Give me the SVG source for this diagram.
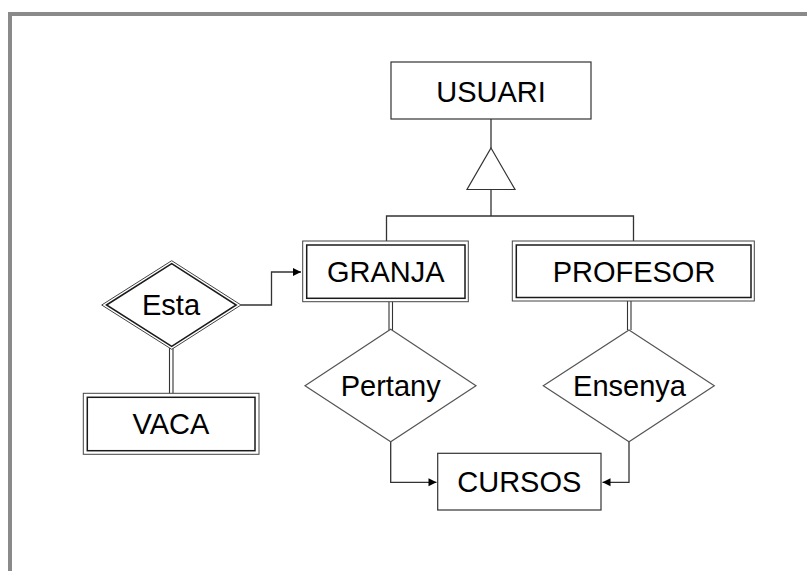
<svg xmlns="http://www.w3.org/2000/svg" width="807" height="571" viewBox="0 0 807 571">
  <defs>
    <style>
      .frame { fill: none; stroke: #8a8a8a; stroke-width: 4; }
      .box { fill: #fff; stroke: #333; stroke-width: 1.2; }
      .outer { fill: #fff; stroke: #444; stroke-width: 1; }
      .inner { fill: #fff; stroke: #1a1a1a; stroke-width: 1.5; }
      .rel { fill: #fff; stroke: #555; stroke-width: 1.2; }
      .link { fill: none; stroke: #333; stroke-width: 1.3; }
      .dbl { fill: none; stroke: #333; stroke-width: 1.1; }
      .label { font-family: "Liberation Sans", Arial, sans-serif; font-size: 29px; fill: #000; text-anchor: middle; }
    </style>
    <marker id="arrow" markerWidth="10" markerHeight="10" refX="9" refY="5" orient="auto" markerUnits="userSpaceOnUse">
      <path d="M1,1 L9,5 L1,9 Z" fill="#000"/>
    </marker>
  </defs>

  <rect width="807" height="571" fill="#fff"/>
  <path class="frame" d="M10,571 V14 H807"/>

  <!-- connectors -->
  <g id="connectors">
    <!-- ISA hierarchy -->
    <line class="link" x1="491" y1="119" x2="491" y2="148"/>
    <path class="link" d="M491,189.5 V216 M386.5,241 V216 H633.5 V241"/>
    <!-- Esta -> GRANJA -->
    <path class="link" d="M241,305 H271.5 V272 H301" marker-end="url(#arrow)"/>
    <!-- Esta = VACA (total participation) -->
    <path class="dbl" d="M169.5,348 V393.5 M173,348 V393.5"/>
    <!-- GRANJA = Pertany -->
    <path class="dbl" d="M389,301.5 V330 M392.5,301.5 V330"/>
    <!-- PROFESOR = Ensenya -->
    <path class="dbl" d="M627.5,301 V330 M631,301 V330"/>
    <!-- Pertany -> CURSOS -->
    <path class="link" d="M390.7,441.7 V482.3 H436.5" marker-end="url(#arrow)"/>
    <!-- Ensenya -> CURSOS -->
    <path class="link" d="M629,441.7 V482.3 H602.5" marker-end="url(#arrow)"/>
  </g>

  <g id="usuari">
    <rect class="box" x="391" y="62" width="200" height="57"/>
    <text class="label" x="491" y="102">USUARI</text>
  </g>

  <g id="isa">
    <polygon class="box" points="491,148 515,189.5 467,189.5"/>
  </g>

  <g id="granja">
    <rect class="outer" x="302.7" y="241" width="165.6" height="60.7"/>
    <rect class="inner" x="306.7" y="245" width="158.3" height="53.3"/>
    <text class="label" x="385.7" y="281.7">GRANJA</text>
  </g>

  <g id="profesor">
    <rect class="outer" x="512.3" y="241" width="242" height="60"/>
    <rect class="inner" x="516.3" y="245" width="234.7" height="52.5"/>
    <text class="label" x="634" y="281.7">PROFESOR</text>
  </g>

  <g id="esta">
    <polygon class="outer" points="101.7,305 171.7,260.7 241,305 171.7,349.3"/>
    <polygon class="inner" points="106.5,305 171.7,263.7 236.2,305 171.7,346.3"/>
    <text class="label" x="171" y="315">Esta</text>
  </g>

  <g id="vaca">
    <rect class="outer" x="83.3" y="393.3" width="175.7" height="61"/>
    <rect class="inner" x="87.3" y="397.3" width="167.7" height="53.4"/>
    <text class="label" x="171" y="434">VACA</text>
  </g>

  <g id="pertany">
    <polygon class="rel" points="390.7,329.3 476,385.7 390.7,441.7 305,385.7"/>
    <text class="label" x="390.7" y="395.5">Pertany</text>
  </g>

  <g id="ensenya">
    <polygon class="rel" points="629,330 714.3,385.7 629,441.7 543.3,385.7"/>
    <text class="label" x="629.5" y="395.5">Ensenya</text>
  </g>

  <g id="cursos">
    <rect class="box" x="437.7" y="453.3" width="163.3" height="56.7"/>
    <text class="label" x="519.3" y="492.3">CURSOS</text>
  </g>
</svg>
